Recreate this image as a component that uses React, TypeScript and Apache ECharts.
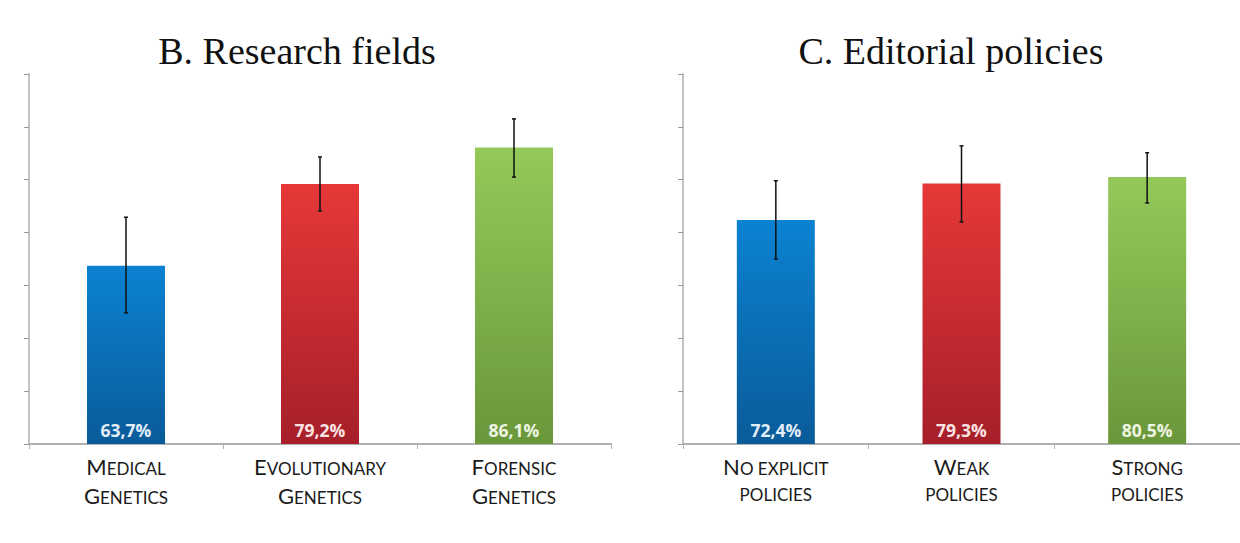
import React, { useEffect, useRef } from "react";
import * as echarts from "echarts";

// Panel B: research fields
const fieldCats = ["Medical Genetics", "Evolutionary Genetics", "Forensic Genetics"];
const fieldValues = [63.7, 79.2, 86.1];
const fieldErrLow = [54.8, 74.1, 80.5];
const fieldErrHigh = [72.9, 84.3, 91.5];

// Panel C: editorial policies
const policyCats = ["No explicit policies", "Weak policies", "Strong policies"];
const policyValues = [72.4, 79.3, 80.5];
const policyErrLow = [65.0, 72.0, 75.6];
const policyErrHigh = [79.8, 86.4, 85.1];

// Category labels in small caps: [bigLetter, rest] per line
const fieldLabels: string[][][] = [
  [["M", "EDICAL"], ["G", "ENETICS"]],
  [["E", "VOLUTIONARY"], ["G", "ENETICS"]],
  [["F", "ORENSIC"], ["G", "ENETICS"]],
];
const policyLabels: string[][][] = [
  [["N", "O EXPLICIT"], ["", "POLICIES"]],
  [["W", "EAK"], ["", "POLICIES"]],
  [["S", "TRONG"], ["", "POLICIES"]],
];

const yTicks = { min: 30, max: 100, interval: 10 };

const barColors = [
  ["#0b82d2", "#0a5b99"],
  ["#e63838", "#a61f29"],
  ["#94c95a", "#6a973a"],
];
const labelColors = ["#e3eef8", "#fbe3e3", "#eef5e2"];

function grad(c: string[]) {
  return new echarts.graphic.LinearGradient(0, 0, 0, 1, [
    { offset: 0, color: c[0] },
    { offset: 1, color: c[1] },
  ]);
}

function fmtLabel(parts: string[][]) {
  return parts
    .map((p) => (p[0] ? `{big|${p[0]}}` : "") + `{small|${p[1]}}`)
    .join("\n");
}

export default function App() {
  const ref = useRef<HTMLDivElement>(null);
  useEffect(() => {
    if (!ref.current) return;
    const chart = echarts.init(ref.current, undefined, { renderer: "svg" });
    const axisGrey = "#c4c4c4";
    const mkX = (cats: string[], labels: string[][][], gi: number) => ({
      type: "category",
      gridIndex: gi,
      data: cats,
      axisLine: { lineStyle: { color: "#b0b0b0", width: 2 } },
      axisTick: { show: true, length: 5, lineStyle: { color: "#b0b0b0" } },
      axisLabel: {
        margin: 4,
        interval: 0,
        hideOverlap: false,
        formatter: (_v: string, i: number) => fmtLabel(labels[i]),
        rich: {
          big: {
            fontFamily: "Lato",
            fontSize: 22,
            color: "#1a1a1a",
            lineHeight: 29,
            verticalAlign: "bottom",
          },
          small: {
            fontFamily: "Lato",
            fontSize: 17,
            color: "#1a1a1a",
            lineHeight: 26,
            verticalAlign: "bottom",
          },
        },
      },
    });
    const mkY = (gi: number) => ({
      type: "value",
      gridIndex: gi,
      min: yTicks.min,
      max: yTicks.max,
      interval: yTicks.interval,
      axisLine: { show: true, lineStyle: { color: axisGrey, width: 2 } },
      axisTick: { show: true, length: 5, lineStyle: { color: "#999" } },
      axisLabel: { show: false },
      splitLine: { show: false },
    });
    const mkBar = (vals: number[], gi: number) => ({
      type: "bar",
      xAxisIndex: gi,
      yAxisIndex: gi,
      barWidth: 78,
      z: 2,
      data: vals.map((v, i) => ({
        value: v,
        itemStyle: { color: grad(barColors[i]) },
        label: { color: labelColors[i] },
      })),
      label: {
        show: true,
        position: "insideBottom",
        distance: 5,
        fontFamily: "Open Sans",
        fontWeight: "bold",
        fontSize: 17.5,
        formatter: (p: any) => p.value.toFixed(1).replace(".", ",") + "%",
      },
    });
    const mkErr = (low: number[], high: number[], gi: number) => ({
      type: "custom",
      xAxisIndex: gi,
      yAxisIndex: gi,
      z: 10,
      data: low.map((l, i) => [i, l, high[i]]),
      renderItem: (_p: any, api: any) => {
        const lo = api.coord([api.value(0), api.value(1)]);
        const hi = api.coord([api.value(0), api.value(2)]);
        const x = lo[0];
        const st = { stroke: "#111", lineWidth: 1.5 };
        return {
          type: "group",
          children: [
            { type: "line", shape: { x1: x, y1: lo[1], x2: x, y2: hi[1] }, style: st },
            { type: "line", shape: { x1: x - 2, y1: lo[1], x2: x + 2, y2: lo[1] }, style: st },
            { type: "line", shape: { x1: x - 2, y1: hi[1], x2: x + 2, y2: hi[1] }, style: st },
          ],
        };
      },
    });
    chart.setOption({
      animation: false,
      backgroundColor: "#ffffff",
      grid: [
        { left: 29, top: 74, width: 582, height: 370 },
        { left: 683, top: 74, width: 582, height: 370 },
      ],
      xAxis: [mkX(fieldCats, fieldLabels, 0), mkX(policyCats, policyLabels, 1)],
      yAxis: [mkY(0), mkY(1)],
      graphic: [
        {
          type: "text",
          x: 297,
          y: 51,
          style: {
            text: "B. Research fields",
            fontFamily: "Liberation Serif",
            fontSize: 38,
            fill: "#111",
            textAlign: "center",
            textVerticalAlign: "middle",
          },
        },
        {
          type: "text",
          x: 951,
          y: 51,
          style: {
            text: "C. Editorial policies",
            fontFamily: "Liberation Serif",
            fontSize: 38,
            fill: "#111",
            textAlign: "center",
            textVerticalAlign: "middle",
          },
        },
      ],
      series: [
        mkBar(fieldValues, 0),
        mkErr(fieldErrLow, fieldErrHigh, 0),
        mkBar(policyValues, 1),
        mkErr(policyErrLow, policyErrHigh, 1),
      ],
    });
    return () => chart.dispose();
  }, []);
  return (
    <div
      ref={ref}
      style={{ position: "fixed", left: 0, top: 0, width: 1240, height: 543 }}
    />
  );
}
